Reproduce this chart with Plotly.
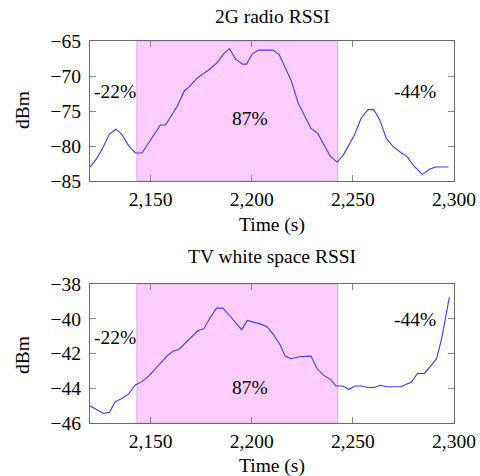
import plotly.graph_objects as go

# ---- data ----
t_2g = [2120, 2123.3, 2126.3, 2129.6, 2132.8, 2135.7, 2139, 2142.4, 2145.7, 2154.8,
        2157.3, 2163, 2166.7, 2168.9, 2173, 2178.8, 2182.9, 2186.2, 2189, 2192,
        2195.4, 2197.4, 2200.3, 2203.6, 2210.3, 2213.5, 2219.4, 2223, 2229.3, 2232.6,
        2238.9, 2242.2, 2245.3, 2250.8, 2254.1, 2257.5, 2260.3, 2263.2, 2266.5, 2269.9,
        2274, 2276.5, 2280.6, 2284.3, 2288.1, 2290.9, 2297.2]
rssi_2g = [-83.0, -81.8, -80.3, -78.3, -77.6, -78.3, -79.9, -81.0, -81.0, -77.0,
           -77.0, -74.4, -72.1, -71.6, -70.3, -69.1, -68.1, -66.8, -66.1, -67.6,
           -68.3, -68.3, -66.8, -66.3, -66.3, -66.9, -70.6, -73.9, -77.5, -78.2,
           -81.5, -82.3, -81.3, -78.4, -76.0, -74.8, -74.8, -76.2, -78.9, -80.1,
           -81.0, -81.4, -83.0, -84.05, -83.3, -83.0, -83.0]

t_tv = [2120, 2123.3, 2126.6, 2129.6, 2132.4, 2135.7, 2139, 2142.4, 2145.7, 2149,
        2152.3, 2155.6, 2158.4, 2161, 2163.9, 2167.2, 2170.5, 2173.3, 2176.3, 2179.3,
        2182.6, 2185.7, 2188.7, 2192, 2195, 2197.8, 2201.1, 2204.4, 2207.4, 2210.7,
        2214, 2216.5, 2219.4, 2223.5, 2229.3, 2232.3, 2235.6, 2238.9, 2241.7, 2245,
        2248, 2251.2, 2254.1, 2257.5, 2260.4, 2263.7, 2266.5, 2269.9, 2273.7, 2279,
        2282, 2285.3, 2288.6, 2291.4, 2293.9, 2295.9, 2297.7]
rssi_tv = [-45.01, -45.24, -45.45, -45.39, -44.78, -44.59, -44.34, -43.81, -43.62, -43.30,
           -42.88, -42.44, -42.11, -41.87, -41.77, -41.39, -41.01, -40.69, -40.57, -39.96,
           -39.39, -39.39, -39.77, -40.25, -40.63, -40.10, -40.19, -40.31, -40.44, -40.91,
           -41.49, -42.15, -42.30, -42.19, -42.15, -42.88, -43.26, -43.49, -43.87, -43.87,
           -44.06, -43.87, -43.87, -43.96, -43.96, -43.83, -43.91, -43.91, -43.91, -43.64,
           -43.14, -43.16, -42.72, -42.30, -41.14, -39.87, -38.76]

shade_span = [2143.2, 2242.5]
x_ticks = [2150, 2200, 2250, 2300]
y_ticks_2g = [-85, -80, -75, -70, -65]
y_ticks_tv = [-46, -44, -42, -40, -38]
labels_2g = [(2132.4, -72.2, "-22%"), (2199, -76.1, "87%"), (2280.5, -72.2, "-44%")]
labels_tv = [(2132.4, -41.09, "-22%"), (2199, -43.94, "87%"), (2280.5, -40.06, "-44%")]

FONT = "Liberation Serif"
FS = 19.5
LINE = "#3a3aff"

W, H = 480, 476


def px(x):
    return x / W


def py(y):
    return 1 - y / H


fig = go.Figure()
fig.add_trace(go.Scatter(x=t_2g, y=rssi_2g, mode="lines", line=dict(color=LINE, width=1.1),
                         xaxis="x", yaxis="y", showlegend=False, hoverinfo="skip"))
fig.add_trace(go.Scatter(x=t_tv, y=rssi_tv, mode="lines", line=dict(color=LINE, width=1.1),
                         xaxis="x2", yaxis="y2", showlegend=False, hoverinfo="skip"))

xd = [px(90), px(454)]
axis_common = dict(showline=True, linecolor="#6a6a6a", linewidth=1.2, mirror="ticks",
                   ticks="inside", ticklen=6, tickcolor="#8a8a8a", tickwidth=1,
                   showgrid=False, zeroline=False, automargin=False,
                   tickfont=dict(family=FONT, size=FS, color="black"))

fig.update_layout(
    width=W, height=H,
    margin=dict(l=0, r=0, t=0, b=0, pad=0),
    paper_bgcolor="white", plot_bgcolor="white",
    font=dict(family=FONT, size=FS, color="black"),
    xaxis=dict(domain=xd, range=[2120, 2300], tickvals=x_ticks, tickformat=",",
               anchor="y", **axis_common),
    yaxis=dict(domain=[py(181), py(41)], range=[-85, -65], tickvals=y_ticks_2g,
               anchor="x", ticklabelstandoff=4, **axis_common),
    xaxis2=dict(domain=xd, range=[2120, 2300], tickvals=x_ticks, tickformat=",",
                anchor="y2", **axis_common),
    yaxis2=dict(domain=[py(423), py(284)], range=[-46, -38], tickvals=y_ticks_tv,
                anchor="x2", ticklabelstandoff=4, **axis_common),
)

for xr, yr in (("x", "y domain"), ("x2", "y2 domain")):
    fig.add_shape(type="rect", xref=xr, yref=yr, x0=shade_span[0], x1=shade_span[1], y0=0, y1=1,
                  fillcolor="#ffccff", line=dict(color="#e0a8e0", width=1), layer="below")

for (x, y, txt) in labels_2g:
    fig.add_annotation(x=x, y=y, xref="x", yref="y", text=txt, showarrow=False,
                       font=dict(family=FONT, size=FS, color="black"))
for (x, y, txt) in labels_tv:
    fig.add_annotation(x=x, y=y, xref="x2", yref="y2", text=txt, showarrow=False,
                       font=dict(family=FONT, size=FS, color="black"))


def paper_text(x, y, txt, angle=0):
    fig.add_annotation(x=px(x), y=py(y), xref="paper", yref="paper", text=txt,
                       showarrow=False, textangle=angle, xanchor="center", yanchor="middle",
                       font=dict(family=FONT, size=FS, color="black"))


paper_text(272, 17, "2G radio RSSI")
paper_text(272, 225, "Time (s)")
paper_text(272, 256, "TV white space RSSI")
paper_text(272, 466, "Time (s)")
paper_text(22, 110, "dBm", -90)
paper_text(22, 355, "dBm", -90)

fig.write_html("out.html", config={"displayModeBar": False},
               post_script="document.body.style.margin='0px';document.body.style.overflow='hidden';")
